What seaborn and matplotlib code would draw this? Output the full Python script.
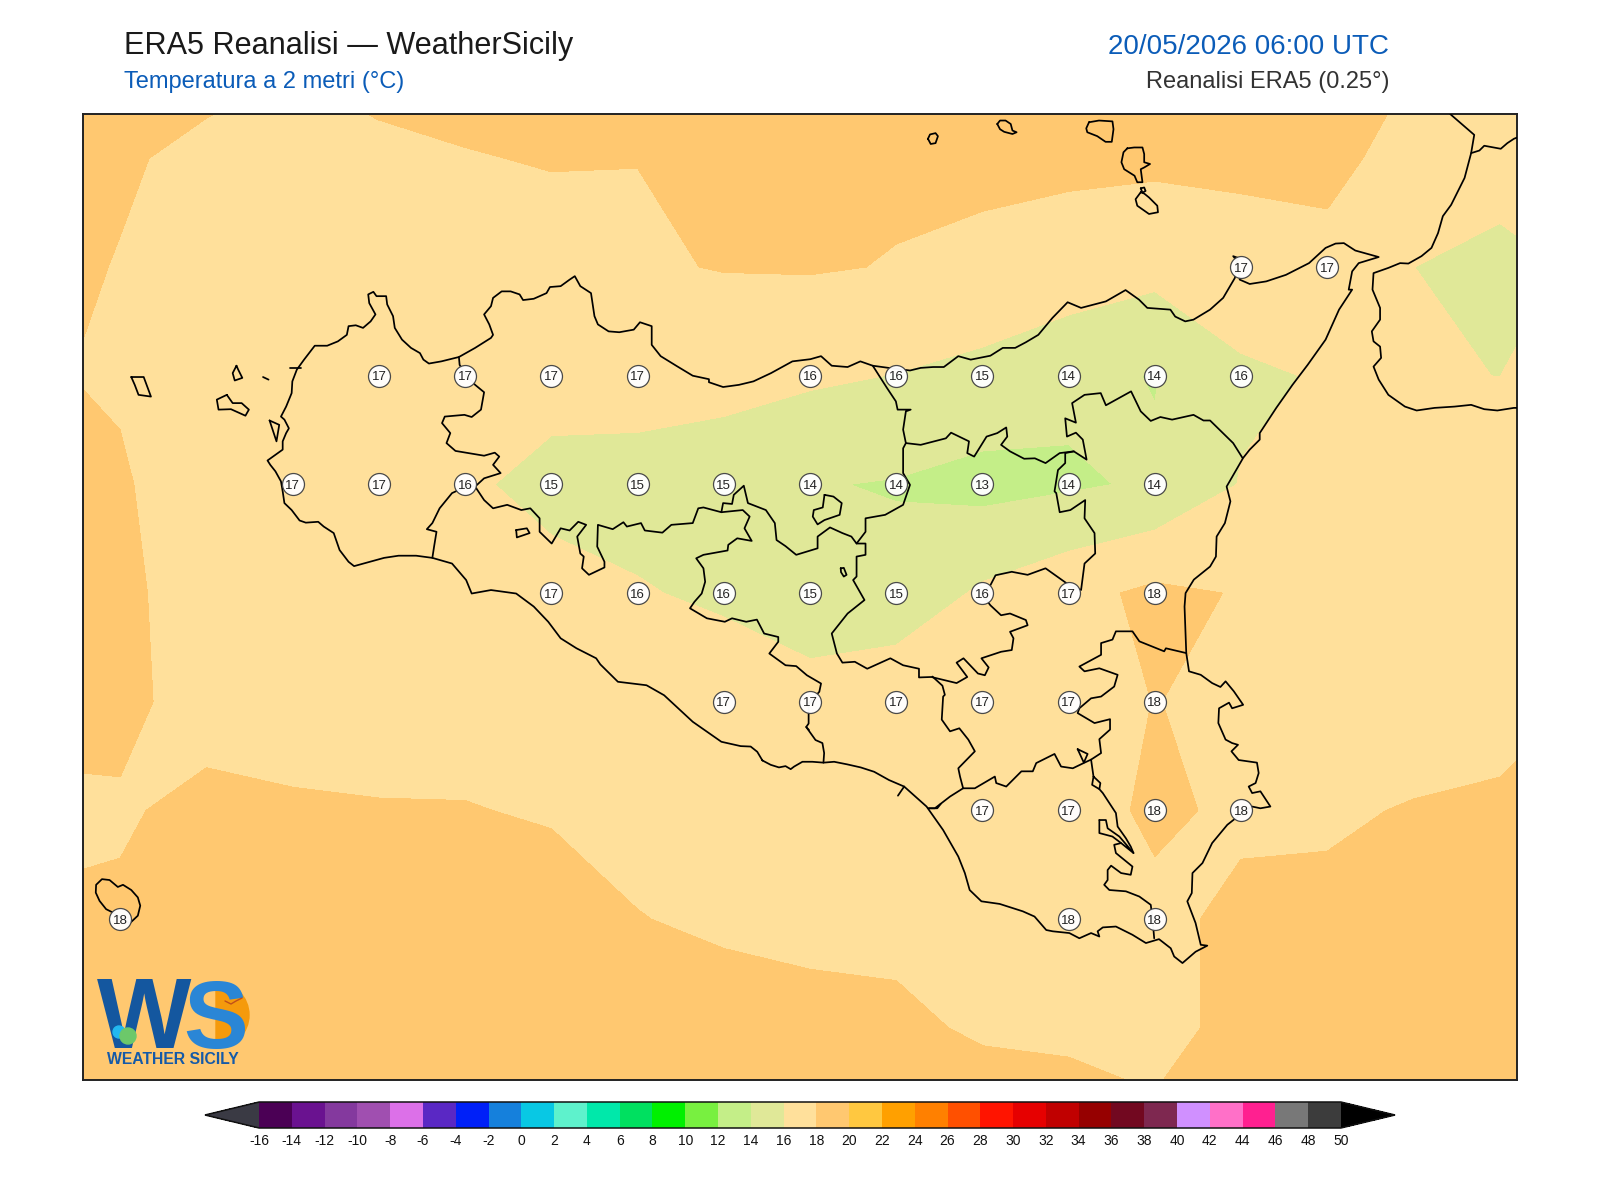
import numpy as np
import pandas as pd
import matplotlib
matplotlib.use("Agg")
import matplotlib.pyplot as plt
import seaborn as sns
from matplotlib.colors import ListedColormap, BoundaryNorm
from matplotlib.patches import Circle, Wedge

# ---------------- DATA ---------------- #
grid_lon = [11.75, 12.0, 12.25, 12.5, 12.75, 13.0, 13.25, 13.5, 13.75, 14.0,
            14.25, 14.5, 14.75, 15.0, 15.25, 15.5, 15.75, 16.0, 16.25]
grid_lat = [38.75, 38.5, 38.25, 38.0, 37.75, 37.5, 37.25, 37.0, 36.75, 36.5, 36.25]

t2m = [
    [18.5, 18.5, 18.51, 18.13, 18.55, 18.54, 18.7, 18.8, 18.9, 18.9, 18.8, 18.8, 18.8, 18.9, 18.9, 19.0, 18.24, 17.6, 17.5],
    [18.4, 18.15, 17.7, 17.6, 17.7, 17.94, 18.07, 18.02, 18.5, 18.6, 18.26, 18.18, 18.34, 18.37, 18.41, 18.87, 16.75, 17.18, 17.3],
    [18.37, 17.94, 17.3, 17.3, 17.3, 17.4, 17.5, 17.8, 18.08, 18.13, 17.93, 17.81, 17.22, 16.6, 17.15, 17.0, 16.01, 15.2, 16.34],
    [18.11, 17.85, 17.2, 17.1, 17.0, 17.0, 16.7, 16.76, 16.48, 16.3, 15.95, 15.35, 14.45, 13.92, 15.7, 16.15, 16.09, 15.99, 17.0],
    [18.5, 18.15, 17.2, 17.0, 16.8, 16.3, 15.43, 15.3, 15.2, 14.1, 13.88, 13.4, 13.74, 14.25, 16.09, 16.6, 16.8, 16.8, 17.0],
    [18.6, 18.3, 17.35, 17.2, 17.1, 16.9, 16.65, 16.13, 15.7, 14.7, 14.63, 16.3, 17.4, 18.4, 17.89, 17.5, 17.3, 17.2, 17.2],
    [18.6, 18.4, 17.35, 17.3, 17.3, 17.3, 17.3, 17.2, 17.06, 16.85, 17.49, 17.3, 17.3, 18.03, 17.67, 17.4, 16.8, 17.0, 18.08],
    [17.62, 17.82, 18.42, 18.19, 18.09, 18.07, 17.85, 17.5, 17.5, 17.5, 17.5, 17.4, 17.45, 18.22, 17.78, 17.7, 18.14, 18.44, 18.6],
    [18.18, 18.23, 18.6, 18.7, 18.8, 18.9, 18.74, 18.05, 17.73, 17.7, 17.7, 17.6, 17.6, 17.7, 18.27, 18.5, 18.7, 18.8, 18.8],
    [18.6, 18.7, 19.0, 19.1, 19.1, 19.1, 19.0, 18.9, 18.73, 18.35, 18.23, 17.85, 17.6, 17.4, 18.53, 18.7, 18.8, 18.9, 19.0],
    [18.8, 18.9, 19.1, 19.2, 19.2, 19.2, 19.2, 19.1, 19.1, 19.0, 19.0, 18.76, 19.08, 18.42, 19.0, 19.0, 19.0, 19.0, 19.0],
]

# value bubbles on the 0.25 degree grid
point_lon = [15.25, 15.5,
             12.75, 13.0, 13.25, 13.5, 14.0, 14.25, 14.5, 14.75, 15.0, 15.25,
             12.5, 12.75, 13.0, 13.25, 13.5, 13.75, 14.0, 14.25, 14.5, 14.75, 15.0,
             13.25, 13.5, 13.75, 14.0, 14.25, 14.5, 14.75, 15.0,
             13.75, 14.0, 14.25, 14.5, 14.75, 15.0,
             14.5, 14.75, 15.0, 15.25,
             12.0, 14.75, 15.0]
point_lat = [38.25, 38.25,
             38.0, 38.0, 38.0, 38.0, 38.0, 38.0, 38.0, 38.0, 38.0, 38.0,
             37.75, 37.75, 37.75, 37.75, 37.75, 37.75, 37.75, 37.75, 37.75, 37.75, 37.75,
             37.5, 37.5, 37.5, 37.5, 37.5, 37.5, 37.5, 37.5,
             37.25, 37.25, 37.25, 37.25, 37.25, 37.25,
             37.0, 37.0, 37.0, 37.0,
             36.75, 36.75, 36.75]
point_val = [17, 17,
             17, 17, 17, 17, 16, 16, 15, 14, 14, 16,
             17, 17, 16, 15, 15, 15, 14, 14, 13, 14, 14,
             17, 16, 16, 15, 15, 16, 17, 18,
             17, 17, 17, 17, 17, 18,
             17, 17, 18, 18,
             18, 18, 18]

levels = list(range(-16, 52, 2))
colors = ["#4B0055", "#6A1290", "#84399E", "#A04FB0", "#DC70E8", "#5A28C4", "#0020F8",
          "#1580DC", "#08C8E4", "#5EF2CC", "#00E8AA", "#00E060", "#00F000", "#78F040",
          "#C4EE88", "#E0E898", "#FFE09B", "#FFC870", "#FFC840", "#FFA000", "#FF8000",
          "#FF5000", "#FF1400", "#E60000", "#C00000", "#960000", "#720820", "#7E2850",
          "#D090FF", "#FF70C8", "#FF2090", "#787878", "#3C3C3C"]

sicily = [(13.862,37.115),(13.847,37.135),(13.828,37.147),(13.799,37.148),(13.743,37.158),(13.660,37.204),(13.577,37.265),(13.526,37.288),(13.443,37.296),(13.392,37.336),
    (13.380,37.350),(13.323,37.373),(13.277,37.396),(13.241,37.434),(13.199,37.469),(13.148,37.499),(13.075,37.507),(13.019,37.499),(13.003,37.530),(12.962,37.568),
    (12.905,37.581),(12.858,37.586),(12.807,37.586),(12.765,37.581),(12.724,37.572),(12.678,37.562),(12.662,37.572),(12.636,37.599),(12.619,37.638),(12.590,37.653),
    (12.574,37.664),(12.538,37.662),(12.520,37.667),(12.497,37.691),(12.476,37.707),(12.471,37.734),(12.466,37.757),(12.450,37.780),(12.435,37.795),(12.427,37.805),
    (12.450,37.818),(12.471,37.830),(12.471,37.849),(12.481,37.868),(12.489,37.879),(12.476,37.899),(12.466,37.906),(12.481,37.929),(12.497,37.960),(12.499,37.987),
    (12.512,38.014),(12.533,38.037),(12.564,38.069),(12.600,38.069),(12.631,38.079),(12.657,38.094),(12.662,38.114),(12.683,38.116),(12.704,38.110),(12.726,38.125),
    (12.740,38.141),(12.722,38.167),(12.719,38.187),(12.734,38.193),(12.743,38.183),(12.771,38.183),(12.774,38.164),(12.791,38.137),(12.796,38.110),(12.817,38.083),
    (12.843,38.064),(12.869,38.052),(12.879,38.037),(12.895,38.028),(12.931,38.033),(12.982,38.043),(13.029,38.064),(13.075,38.087),(13.081,38.094),(13.070,38.118),
    (13.055,38.141),(13.075,38.160),(13.081,38.179),(13.106,38.194),(13.132,38.194),(13.158,38.187),(13.168,38.174),(13.199,38.177),(13.236,38.190),(13.246,38.204),
    (13.277,38.206),(13.303,38.221),(13.318,38.229),(13.334,38.206),(13.365,38.190),(13.375,38.137),(13.385,38.118),(13.416,38.102),(13.447,38.100),(13.489,38.106),
    (13.507,38.123),(13.541,38.114),(13.541,38.071),(13.567,38.045),(13.614,38.022),(13.660,38.000),(13.707,37.992),(13.707,37.985),(13.748,37.974),(13.794,37.979),
    (13.836,37.987),(13.887,38.006),(13.949,38.033),(14.001,38.038),(14.032,38.045),(14.063,38.023),(14.109,38.020),(14.146,38.033),(14.182,38.023),(14.228,38.018),
    (14.290,38.012),(14.321,38.018),(14.357,38.020),(14.388,38.020),(14.430,38.045),(14.466,38.037),(14.523,38.046),(14.559,38.064),(14.595,38.064),(14.626,38.077),
    (14.662,38.094),(14.703,38.133),(14.747,38.169),(14.786,38.156),(14.858,38.171),(14.915,38.197),(14.954,38.175),(14.978,38.156),(15.045,38.152),(15.059,38.136),
    (15.088,38.125),(15.112,38.129),(15.160,38.152),(15.198,38.179),(15.232,38.225),(15.241,38.271),(15.227,38.275),(15.235,38.267),(15.246,38.221),(15.275,38.211),
    (15.323,38.217),(15.380,38.232),(15.447,38.259),(15.495,38.294),(15.524,38.304),(15.548,38.305),(15.581,38.288),(15.649,38.273),(15.591,38.259),(15.572,38.240),
    (15.562,38.198),(15.572,38.198),(15.534,38.152),(15.495,38.083),(15.443,38.025),(15.399,37.979),(15.352,37.926),(15.304,37.868),(15.304,37.853),(15.275,37.830),
    (15.256,37.811),(15.208,37.745),(15.219,37.711),(15.203,37.661),(15.179,37.630),(15.177,37.584),(15.160,37.561),(15.113,37.531),(15.089,37.500),(15.086,37.469),
    (15.091,37.362),(15.099,37.320),(15.133,37.312),(15.166,37.293),(15.190,37.284),(15.205,37.297),(15.229,37.274),(15.256,37.243),(15.224,37.235),(15.215,37.248),
    (15.186,37.235),(15.184,37.201),(15.205,37.163),(15.224,37.155),(15.241,37.151),(15.222,37.136),(15.243,37.116),(15.296,37.110),(15.301,37.086),(15.292,37.063),
    (15.272,37.055),(15.282,37.040),(15.306,37.044),(15.335,37.009),(15.306,37.005),(15.282,37.009),(15.253,36.994),(15.210,36.967),(15.166,36.925),(15.138,36.879),
    (15.109,36.856),(15.107,36.810),(15.094,36.791),(15.118,36.741),(15.133,36.691),(15.152,36.689),(15.118,36.675),(15.080,36.649),(15.056,36.664),(15.046,36.683),
    (15.012,36.704),(14.974,36.695),(14.935,36.714),(14.887,36.733),(14.849,36.731),(14.834,36.722),(14.839,36.710),(14.815,36.718),(14.781,36.706),(14.752,36.718),
    (14.704,36.722),(14.685,36.725),(14.651,36.756),(14.617,36.768),(14.550,36.785),(14.497,36.791),(14.463,36.817),(14.449,36.856),(14.430,36.894),(14.386,36.955),
    (14.338,37.009),(14.311,37.028),(14.273,37.055),(14.229,37.070),(14.186,37.089),(14.147,37.099),(14.108,37.106),(14.070,37.112),(14.039,37.110),(14.007,37.112),
    (13.978,37.112),(13.954,37.101),(13.944,37.095),(13.929,37.102),(13.910,37.099),(13.886,37.105),(13.862,37.115)]

calabria = [(15.845,38.612),(15.859,38.600),(15.926,38.554),(15.917,38.512),(15.898,38.455),(15.859,38.393),(15.835,38.367),(15.821,38.328),(15.802,38.294),(15.773,38.275),
    (15.735,38.258),(15.711,38.259),(15.677,38.248),(15.634,38.236),(15.631,38.198),(15.653,38.156),(15.653,38.129),(15.629,38.102),(15.634,38.079),(15.653,38.067),
    (15.656,38.041),(15.634,38.021),(15.649,37.991),(15.677,37.956),(15.725,37.929),(15.759,37.920),(15.811,37.926),(15.869,37.929),(15.917,37.933),(15.955,37.923),
    (15.993,37.920),(16.041,37.926),(16.070,37.926)]
calabria_border = [(15.917,38.512),(15.941,38.518),(15.955,38.529),(16.003,38.522),(16.022,38.535),(16.041,38.545),(16.070,38.554)]

borders = [
    # trapani
    [(12.982,38.043),(12.984,38.025),(13.003,38.000),(13.029,37.979),(13.055,37.962),(13.046,37.922),(13.019,37.905),(12.998,37.910),(12.941,37.906),(12.933,37.891),
     (12.957,37.868),(12.946,37.845),(12.972,37.827),(13.055,37.816),(13.086,37.823),(13.099,37.814),(13.081,37.795),(13.103,37.776),(13.055,37.764),(13.029,37.745),
     (13.003,37.745),(12.962,37.730),(12.926,37.695),(12.905,37.661),(12.889,37.647),(12.917,37.641),(12.910,37.607),(12.905,37.581)],
    # palermo south side
    [(13.029,37.745),(13.055,37.714),(13.081,37.695),(13.122,37.703),(13.163,37.691),(13.189,37.695),(13.216,37.672),(13.216,37.641),(13.251,37.614),(13.277,37.649),
     (13.303,37.644),(13.328,37.664),(13.351,37.657),(13.325,37.630),(13.334,37.591),(13.344,37.584),(13.339,37.557),(13.359,37.542),(13.404,37.559),(13.404,37.572),
     (13.383,37.607),(13.385,37.657),(13.428,37.647),(13.459,37.663),(13.469,37.653),(13.510,37.661),(13.521,37.644),(13.572,37.639),(13.598,37.657),(13.660,37.661),
     (13.676,37.695),(13.691,37.697),(13.743,37.686),(13.748,37.707),(13.774,37.705),(13.779,37.726),(13.808,37.747),(13.820,37.707),(13.872,37.691),(13.898,37.661),
     (13.903,37.622),(13.929,37.608),(13.960,37.588),(14.022,37.603),(14.022,37.630),(14.058,37.651),(14.094,37.638),(14.120,37.630),(14.135,37.614),(14.161,37.641),
     (14.161,37.672),(14.218,37.680),(14.270,37.703),(14.290,37.749),(14.270,37.776),(14.270,37.833),(14.278,37.845),(14.270,37.876),(14.278,37.918),(14.292,37.922),
     (14.254,37.922),(14.249,37.941),(14.223,37.972),(14.182,38.023)],
    # caltanissetta
    [(13.743,37.686),(13.805,37.691),(13.825,37.676),(13.810,37.649),(13.831,37.620),(13.789,37.626),(13.763,37.611),(13.761,37.598),(13.691,37.588),(13.670,37.580),
     (13.691,37.557),(13.696,37.526),(13.686,37.499),(13.665,37.480),(13.652,37.465),(13.701,37.442),(13.753,37.434),(13.774,37.442),(13.815,37.434),(13.846,37.439),
     (13.867,37.407),(13.908,37.399),(13.908,37.388),(13.882,37.361),(13.929,37.334),(13.960,37.332),(13.991,37.311),(14.032,37.292),(14.027,37.273),(13.996,37.246),
     (13.996,37.200),(13.989,37.192),(14.016,37.162),(14.036,37.155),(14.041,37.132),(14.039,37.110)],
    # enna, then catania north side
    [(14.135,37.614),(14.161,37.614),(14.161,37.588),(14.135,37.584),(14.135,37.538),(14.125,37.530),(14.158,37.484),(14.109,37.453),(14.063,37.407),(14.078,37.361),
     (14.094,37.340),(14.130,37.342),(14.166,37.326),(14.233,37.350),(14.270,37.334),(14.316,37.326),(14.316,37.306),(14.352,37.307),(14.425,37.293),(14.456,37.307),
     (14.425,37.340),(14.445,37.350),(14.487,37.315),(14.507,37.311),(14.518,37.329),(14.497,37.350),(14.554,37.365),(14.585,37.369),(14.590,37.396),(14.580,37.411),
     (14.631,37.426),(14.626,37.438),(14.580,37.453),(14.554,37.449),(14.523,37.472),(14.497,37.499),(14.523,37.518),(14.538,37.541),(14.585,37.549),(14.631,37.542),
     (14.683,37.557),(14.745,37.522),(14.786,37.507),(14.796,37.568),(14.827,37.591),(14.825,37.638),(14.796,37.672),(14.798,37.714),(14.755,37.691),(14.724,37.686),
     (14.714,37.730),(14.709,37.734),(14.719,37.783),(14.740,37.799),(14.740,37.822),(14.765,37.826),(14.802,37.807),(14.791,37.853),(14.771,37.869),(14.745,37.860),
     (14.740,37.902),(14.771,37.892),(14.760,37.937),(14.796,37.956),(14.843,37.960),(14.858,37.932),(14.931,37.964),(14.959,37.918),(14.988,37.896),(15.016,37.905),
     (15.050,37.899),(15.112,37.910),(15.141,37.897),(15.160,37.897),(15.227,37.845),(15.254,37.811)],
    # messina
    [(14.278,37.845),(14.321,37.841),(14.394,37.856),(14.409,37.869),(14.461,37.849),(14.456,37.822),(14.476,37.814),(14.512,37.860),(14.543,37.868),(14.569,37.881),
     (14.572,37.860),(14.554,37.841),(14.580,37.826),(14.621,37.809),(14.652,37.810),(14.683,37.799),(14.724,37.822),(14.765,37.826)],
    # gela side
    [(14.343,37.005),(14.362,37.005),(14.406,37.032),(14.444,37.051),(14.435,37.078),(14.430,37.097),(14.478,37.136),(14.459,37.163),(14.433,37.189),(14.406,37.182),
     (14.382,37.209),(14.386,37.262),(14.391,37.266),(14.384,37.287),(14.355,37.308)],
    # ragusa
    [(14.444,37.051),(14.478,37.051),(14.536,37.078),(14.540,37.063),(14.569,37.055),(14.613,37.090),(14.646,37.090),(14.656,37.109),(14.709,37.130),(14.728,37.101),
     (14.762,37.097),(14.796,37.110),(14.815,37.117),(14.822,37.078),(14.818,37.059),(14.839,37.049),(14.842,37.063),(14.822,37.078)],
    [(14.839,37.049),(14.849,37.040),(14.887,36.994),(14.892,36.963),(14.916,36.936),(14.930,36.917),(14.938,36.902)],
    # siracusa
    [(15.091,37.362),(15.032,37.373),(15.027,37.366),(14.955,37.389),(14.935,37.412),(14.887,37.412),(14.877,37.393),(14.844,37.385),(14.844,37.358),(14.781,37.331),
     (14.796,37.320),(14.839,37.327),(14.892,37.312),(14.882,37.285),(14.844,37.262),(14.815,37.258),(14.781,37.235),(14.776,37.224),(14.825,37.201),(14.870,37.210),
     (14.870,37.186),(14.839,37.164),(14.844,37.132),(14.815,37.117)],
    [(14.839,36.978),(14.858,36.978),(14.863,36.959),(14.897,36.940),(14.938,36.902),(14.902,36.925),(14.882,36.921),(14.887,36.902),(14.935,36.871),(14.930,36.852),
     (14.902,36.856),(14.873,36.873),(14.863,36.863),(14.863,36.840),(14.853,36.829),(14.868,36.817),(14.916,36.814),(14.955,36.802),(14.988,36.783),(14.993,36.752),(14.998,36.706)],
    [(14.839,36.978),(14.839,36.948),(14.877,36.940),(14.902,36.925)],
    [(14.776,37.141),(14.805,37.130),(14.794,37.110),(14.776,37.141)],
    # short bits on the south coast
    [(13.997,37.185),(13.989,37.192)],
    [(14.273,37.055),(14.255,37.034)],
    [(14.345,37.005),(14.369,37.005),(14.379,37.015)],
    [(12.492,38.018),(12.525,38.018)],
]

islands = [
    [(11.979,36.765),(12.027,36.740),(12.051,36.758),(12.058,36.781),(12.051,36.800),(12.032,36.817),(12.008,36.829),(11.993,36.824),(11.969,36.840),(11.947,36.842),(11.930,36.829),(11.929,36.811),(11.940,36.792),(11.959,36.773),(11.979,36.765)],
    [(14.342,38.545),(14.348,38.555),(14.364,38.558),(14.371,38.551),(14.364,38.535),(14.350,38.533),(14.342,38.545)],
    [(14.543,38.579),(14.551,38.587),(14.567,38.587),(14.582,38.579),(14.587,38.564),(14.599,38.560),(14.587,38.556),(14.563,38.561),(14.551,38.567),(14.543,38.579)],
    [(14.809,38.583),(14.838,38.587),(14.877,38.585),(14.880,38.567),(14.875,38.538),(14.857,38.538),(14.833,38.551),(14.804,38.560),(14.801,38.569),(14.809,38.583)],
    [(14.920,38.523),(14.940,38.525),(14.964,38.525),(14.969,38.510),(14.969,38.491),(14.986,38.487),(14.969,38.479),(14.959,38.475),(14.964,38.445),(14.949,38.445),(14.941,38.460),(14.911,38.475),(14.903,38.491),(14.909,38.514),(14.920,38.523)],
    [(14.959,38.422),(14.944,38.406),(14.949,38.391),(14.983,38.372),(15.009,38.376),(15.007,38.391),(14.983,38.410),(14.969,38.419),(14.959,38.422)],
    [(14.959,38.431),(14.969,38.433),(14.973,38.425),(14.964,38.421),(14.959,38.431)],
    [(12.032,37.997),(12.068,37.997),(12.089,37.952),(12.053,37.956),(12.042,37.979),(12.032,37.997)],
    [(12.337,38.023),(12.326,38.006),(12.332,37.989),(12.354,37.995),(12.342,38.014),(12.337,38.023)],
    [(12.309,37.956),(12.280,37.945),(12.285,37.922),(12.321,37.923),(12.363,37.908),(12.373,37.922),(12.352,37.937),(12.326,37.937),(12.309,37.956)],
    [(12.414,37.997),(12.430,37.991)],
    [(12.433,37.897),(12.453,37.849),(12.461,37.887),(12.433,37.897)],
    [(13.148,37.645),(13.179,37.649),(13.187,37.638),(13.150,37.628),(13.148,37.645)],
    [(14.042,37.726),(14.068,37.722),(14.092,37.707),(14.086,37.680),(14.042,37.668),(14.022,37.658),(14.008,37.676),(14.011,37.691),(14.037,37.697),(14.042,37.726)],
    [(14.089,37.557),(14.098,37.558),(14.106,37.542),(14.098,37.538),(14.090,37.548),(14.089,37.557)],
]

tick_vals = list(range(-16, 52, 2))

# ---------------- STYLE ---------------- #
sns.set_theme(style="white")
plt.rcParams["font.family"] = ["Liberation Sans", "DejaVu Sans"]
plt.rcParams["axes.unicode_minus"] = False

W, H = 1600, 1200


def fig_box(left, top, right, bottom):
    return [left / W, 1 - bottom / H, (right - left) / W, (bottom - top) / H]


fig = plt.figure(figsize=(16, 12), dpi=100)
ax = fig.add_axes(fig_box(83, 114, 1517, 1080))

# ---------------- FIELD ---------------- #
cmap = ListedColormap(colors).with_extremes(under="#3A3A44", over="#000000")
norm = BoundaryNorm(levels, len(colors))
cf = ax.contourf(grid_lon, grid_lat, np.array(t2m), levels=levels, cmap=cmap, norm=norm, extend="both")

# ---------------- COAST AND BORDERS ---------------- #
for line in [sicily, calabria, calabria_border] + borders + islands:
    xs, ys = zip(*line)
    ax.plot(xs, ys, color="black", lw=1.25, solid_joinstyle="round", zorder=3)

# ---------------- VALUE BUBBLES ---------------- #
points = pd.DataFrame({"lon": point_lon, "lat": point_lat, "val": point_val})
sns.scatterplot(data=points, x="lon", y="lat", s=250, color="white", edgecolor="#444444",
                linewidth=0.9, alpha=0.97, zorder=4, ax=ax, legend=False)
for row in points.itertuples():
    ax.text(row.lon, row.lat, str(row.val), ha="center", va="center_baseline", fontsize=9.5,
            color="#222222", zorder=5)

ax.set_xlim(11.892, 16.050)
ax.set_ylim(36.380, 38.602)
ax.set_xlabel("")
ax.set_ylabel("")
ax.set_xticks([])
ax.set_yticks([])
for side in ax.spines.values():
    side.set_visible(True)
    side.set_color("#222222")
    side.set_linewidth(1.4)

# ---------------- TITLES ---------------- #
fig.text(124 / W, 1 - 54 / H, "ERA5 Reanalisi — WeatherSicily", fontsize=22.1, color="#1a1a1a")
fig.text(124 / W, 1 - 88 / H, "Temperatura a 2 metri (°C)", fontsize=17, color="#0B5CB8")
fig.text(1389 / W, 1 - 54 / H, "20/05/2026 06:00 UTC", fontsize=20, color="#0B5CB8", ha="right")
fig.text(1389 / W, 1 - 88 / H, "Reanalisi ERA5 (0.25°)", fontsize=17, color="#333333", ha="right")

# ---------------- COLORBAR ---------------- #
cax = fig.add_axes(fig_box(205, 1102, 1395, 1128))
cb = fig.colorbar(cf, cax=cax, orientation="horizontal", extend="both", extendfrac=0.05,
                  ticks=tick_vals, spacing="uniform")
cb.ax.tick_params(length=0, labelsize=10, pad=4, colors="#111111")
cb.outline.set_edgecolor("#111111")
cb.outline.set_linewidth(1.1)

# ---------------- LOGO ---------------- #
logo = fig.add_axes(fig_box(90, 970, 260, 1072))
logo.set_xlim(90, 260)
logo.set_ylim(1072, 970)
logo.axis("off")
logo.add_patch(Wedge((216, 1015), 33, -90, 90, color="#F59A0C", zorder=1))
logo.text(144, 1048, "W", fontsize=72, fontweight="bold", color="#14579F", ha="center",
          va="baseline", zorder=2)
logo.text(216, 1048, "S", fontsize=70, fontweight="bold", color="#2A86D6", ha="center",
          va="baseline", zorder=3)
logo.add_patch(Circle((119, 1032), 6, color="#22B8F0", zorder=4))
logo.add_patch(Circle((128, 1036), 8, color="#6CC86A", zorder=4))
logo.plot([225, 231, 236, 242], [1001, 1004, 1001, 998], color="#C0501A", lw=1, zorder=5)
logo.text(173, 1059, "WEATHER SICILY", fontsize=11.3, fontweight="bold", color="#155AA8",
          ha="center", va="center", zorder=3)

fig.savefig("out.png", dpi=100, facecolor="white")
